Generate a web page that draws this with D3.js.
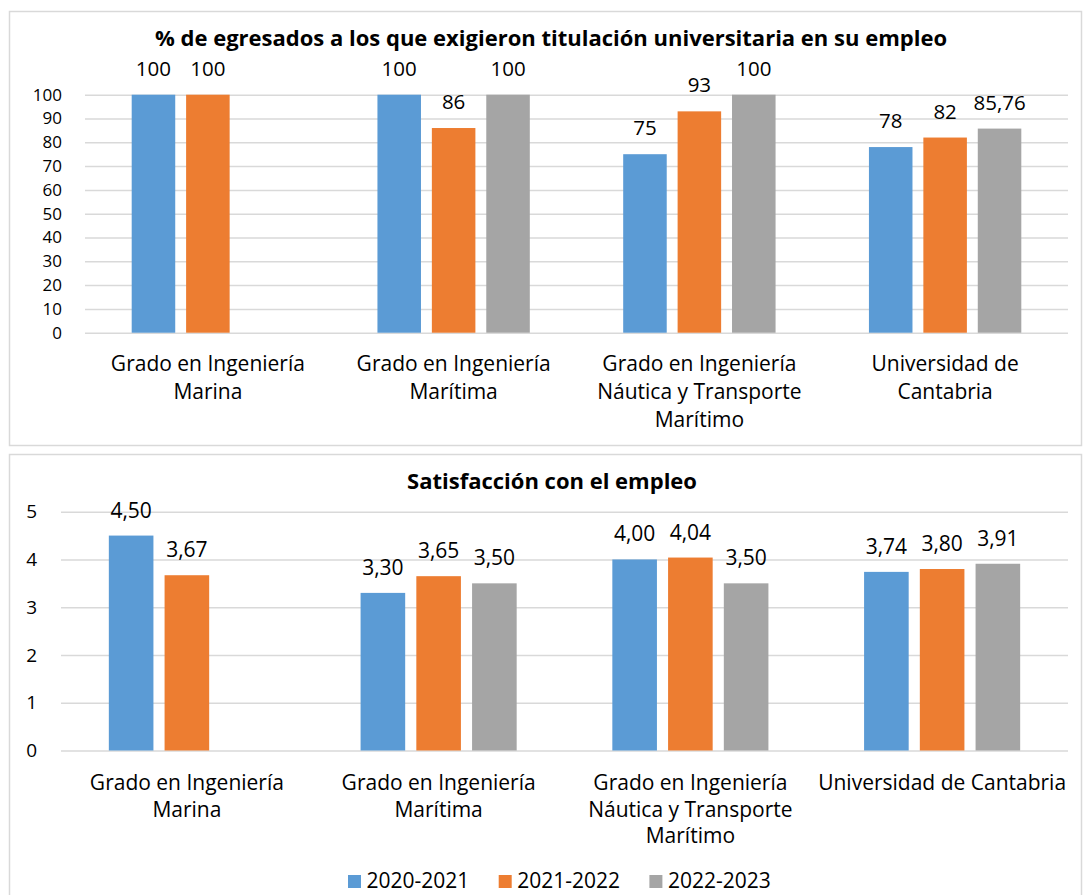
<!DOCTYPE html>
<html>
<head>
<meta charset="utf-8">
<script src="https://cdn.jsdelivr.net/npm/d3@7"></script>
<style>
  html, body { margin: 0; padding: 0; background: #fff; }
  svg text { font-family: "Open Sans", "Noto Sans", sans-serif; fill: #000; }
</style>
</head>
<body>
<svg id="chart" width="1083" height="895"></svg>
<script>
// ---------- DATA ----------
const series = ["2020-2021", "2021-2022", "2022-2023"];
const seriesColors = ["#5B9BD5", "#ED7D31", "#A5A5A5"];

const categories = [
  "Grado en Ingeniería Marina",
  "Grado en Ingeniería Marítima",
  "Grado en Ingeniería Náutica y Transporte Marítimo",
  "Universidad de Cantabria"
];
// category label lines (as wrapped in each chart)
const topCategoryLines = [
  ["Grado en Ingeniería", "Marina"],
  ["Grado en Ingeniería", "Marítima"],
  ["Grado en Ingeniería", "Náutica y Transporte", "Marítimo"],
  ["Universidad de", "Cantabria"]
];
const bottomCategoryLines = [
  ["Grado en Ingeniería", "Marina"],
  ["Grado en Ingeniería", "Marítima"],
  ["Grado en Ingeniería", "Náutica y Transporte", "Marítimo"],
  ["Universidad de Cantabria"]
];

// % de egresados a los que exigieron titulación universitaria
const titulacion_2020_2021 = [100, 100, 75, 78];
const titulacion_2021_2022 = [100, 86, 93, 82];
const titulacion_2022_2023 = [null, 100, 100, 85.76];
const titulacionTicks = [0, 10, 20, 30, 40, 50, 60, 70, 80, 90, 100];

// Satisfacción con el empleo
const satisfaccion_2020_2021 = [4.50, 3.30, 4.00, 3.74];
const satisfaccion_2021_2022 = [3.67, 3.65, 4.04, 3.80];
const satisfaccion_2022_2023 = [null, 3.50, 3.50, 3.91];
const satisfaccionTicks = [0, 1, 2, 3, 4, 5];

const topTitle = "% de egresados a los que exigieron titulación universitaria en su empleo";
const bottomTitle = "Satisfacción con el empleo";

// ---------- DRAW ----------
const svg = d3.select("#chart");

function fmtTop(v) {
  return Number.isInteger(v) ? String(v) : v.toFixed(2).replace(".", ",");
}
function fmtBottom(v) {
  return v.toFixed(2).replace(".", ",");
}

function drawPanel(cfg) {
  // panel border
  svg.append("rect")
    .attr("x", cfg.box[0] + 0.5).attr("y", cfg.box[1] + 0.5)
    .attr("width", cfg.box[2]).attr("height", cfg.box[3])
    .attr("fill", "#fff").attr("stroke", "#D9D9D9").attr("stroke-width", 1.5);

  const data = categories.map((c, i) => ({
    cat: c,
    values: series.map((s, j) => ({ s, j, v: cfg.values[j][i] }))
  }));

  const x0 = d3.scaleBand().domain(categories).range([cfg.left, cfg.right]).padding(0);
  const bw = x0.bandwidth();
  const groupW = bw * 0.62;
  const x1 = d3.scaleBand().domain(series)
    .range([(bw - groupW) / 2, (bw + groupW) / 2]).paddingInner(0.2).paddingOuter(0);
  const y = d3.scaleLinear().domain(cfg.domain).range([cfg.bottom, cfg.top]);

  // grid + y tick labels
  const yAxis = d3.axisLeft(y).tickValues(cfg.ticks)
    .tickSize(-(cfg.right - cfg.left)).tickPadding(cfg.tickPad)
    .tickFormat(d => String(d));
  const gy = svg.append("g").attr("transform", `translate(${cfg.left},0)`).call(yAxis);
  gy.select(".domain").remove();
  gy.selectAll(".tick line").attr("stroke", "#D9D9D9").attr("stroke-width", 1.5);
  gy.selectAll(".tick text").attr("font-size", cfg.tickFont).attr("fill", "#000")
    .style("font-family", '"Open Sans", sans-serif');

  // title
  svg.append("text")
    .attr("x", cfg.titleX).attr("y", cfg.titleY)
    .attr("text-anchor", "middle").attr("font-weight", "bold")
    .attr("font-size", cfg.titleFont)
    .text(cfg.title);

  // bars
  const groups = svg.append("g").selectAll("g.grp").data(data).join("g")
    .attr("class", "grp")
    .attr("transform", d => `translate(${x0(d.cat)},0)`);

  groups.selectAll("rect").data(d => d.values.filter(e => e.v != null)).join("rect")
    .attr("x", d => x1(d.s)).attr("width", x1.bandwidth())
    .attr("y", d => y(d.v)).attr("height", d => y(0) - y(d.v))
    .attr("fill", d => seriesColors[d.j]);

  groups.selectAll("text.lbl").data(d => d.values.filter(e => e.v != null)).join("text")
    .attr("class", "lbl")
    .attr("x", d => x1(d.s) + x1.bandwidth() / 2)
    .attr("y", d => y(d.v) - cfg.labelGap)
    .attr("text-anchor", "middle").attr("font-size", cfg.labelFont)
    .text(d => cfg.fmt(d.v));

  // x axis category labels
  const xAxis = d3.axisBottom(x0).tickSize(0).tickFormat("");
  const gx = svg.append("g").attr("transform", `translate(0,${cfg.bottom})`).call(xAxis);
  gx.select(".domain").remove();
  gx.selectAll(".tick").each(function (d, i) {
    const t = d3.select(this).append("text")
      .attr("text-anchor", "middle").attr("font-size", cfg.catFont)
      .style("font-family", '"Open Sans", sans-serif').attr("fill", "#000");
    cfg.catLines[i].forEach((line, k) => {
      t.append("tspan").attr("x", 0).attr("y", cfg.catFirst + k * cfg.catLineH).text(line);
    });
  });
}

drawPanel({
  box: [9, 11, 1072, 434],
  left: 85, right: 1068, top: 94.7, bottom: 332.7,
  domain: [0, 100], ticks: titulacionTicks, tickPad: 23, tickFont: 17,
  values: [titulacion_2020_2021, titulacion_2021_2022, titulacion_2022_2023],
  title: topTitle, titleX: 551, titleY: 46, titleFont: 22,
  labelGap: 19, labelFont: 20.5, fmt: fmtTop,
  catLines: topCategoryLines, catFirst: 38, catLineH: 28, catFont: 21
});

drawPanel({
  box: [9, 454, 1072, 445],
  left: 61, right: 1068, top: 511.7, bottom: 750.5,
  domain: [0, 5], ticks: satisfaccionTicks, tickPad: 24, tickFont: 19,
  values: [satisfaccion_2020_2021, satisfaccion_2021_2022, satisfaccion_2022_2023],
  title: bottomTitle, titleX: 552, titleY: 489, titleFont: 22,
  labelGap: 18, labelFont: 21, fmt: fmtBottom,
  catLines: bottomCategoryLines, catFirst: 39.5, catLineH: 26.5, catFont: 21
});

// legend
const legend = svg.append("g").attr("transform", "translate(348,875)");
const items = legend.selectAll("g").data(series).join("g")
  .attr("transform", (d, i) => `translate(${i * 150.7},0)`);
items.append("rect").attr("width", 13).attr("height", 13)
  .attr("fill", (d, i) => seriesColors[i]);
items.append("text").attr("x", 18.5).attr("y", 13)
  .attr("font-size", 21).text(d => d);
</script>
</body>
</html>
